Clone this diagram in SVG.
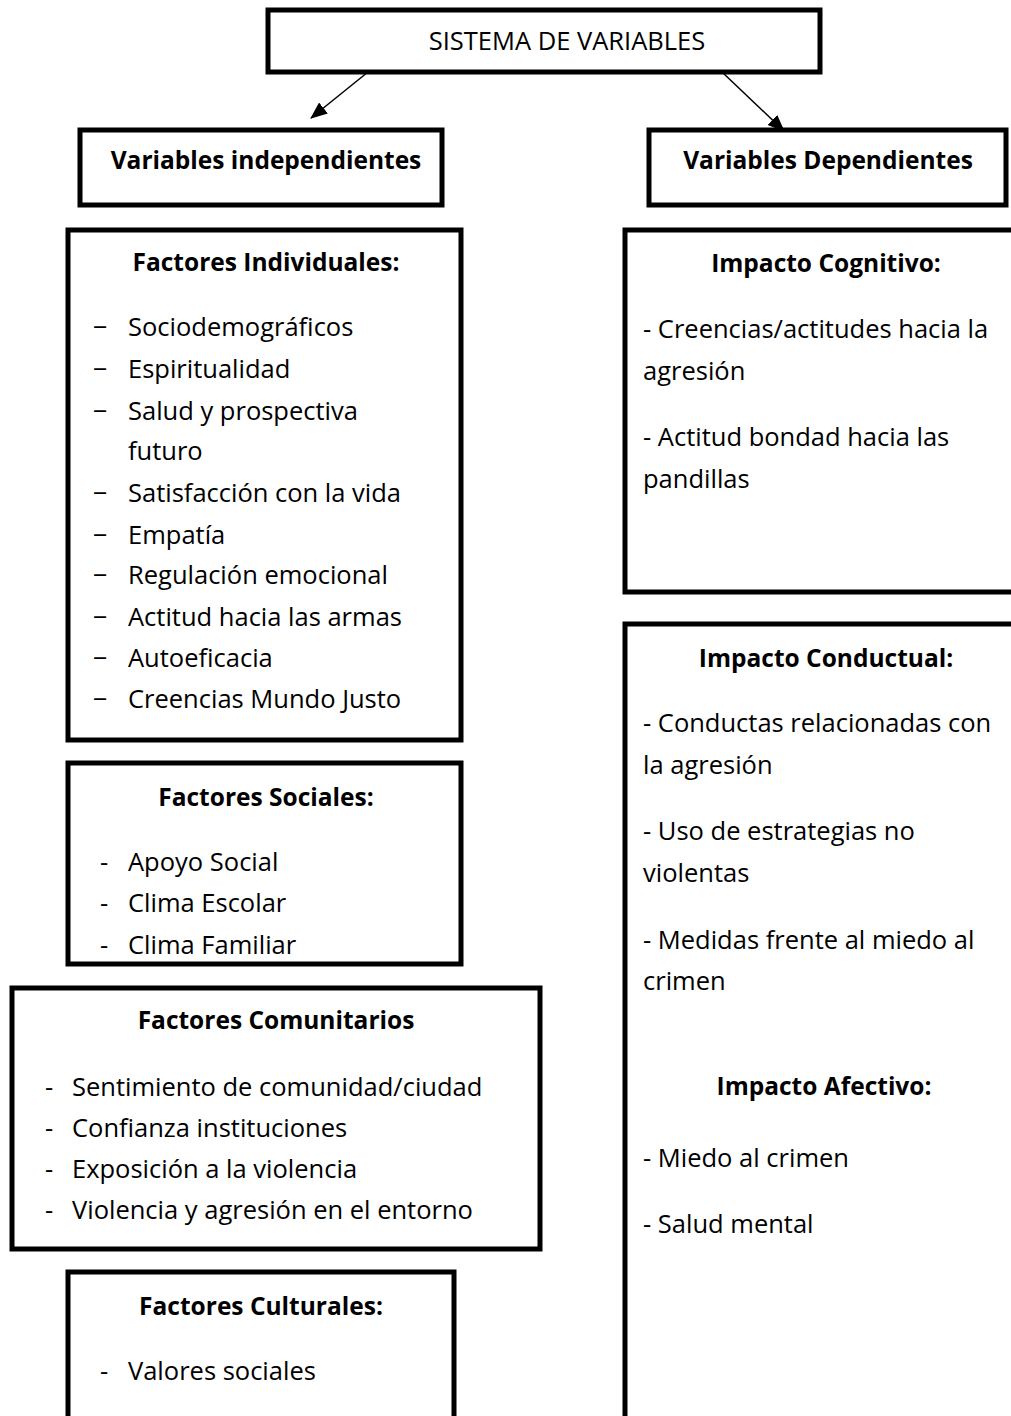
<svg xmlns="http://www.w3.org/2000/svg" width="1011" height="1416" viewBox="0 0 1011 1416">
<style>
.box{fill:#fff;stroke:#000;stroke-width:5}
.t{font-family:"Open Sans","Liberation Sans",sans-serif;font-size:25.5px;fill:#000}
.b{font-family:"Open Sans","Liberation Sans",sans-serif;font-size:24.5px;font-weight:bold;fill:#000;text-anchor:middle}
.c{text-anchor:middle}
.conn{stroke:#000;stroke-width:1.5;fill:none;marker-end:url(#ah)}
</style>
<defs>
<marker id="ah" markerWidth="18" markerHeight="16" refX="16" refY="7" orient="auto" markerUnits="userSpaceOnUse">
<path d="M0,0 L17,7 L0,14 Z" fill="#000"/>
</marker>
<clipPath id="clipSoc"><rect x="68" y="763" width="393" height="191"/></clipPath>
</defs>
<rect width="1011" height="1416" fill="#fff"/>
<g id="sistema">
<rect class="box" x="268" y="10" width="552" height="62"/>
<text class="t c" x="567" y="50">SISTEMA DE VARIABLES</text>
</g>
<g id="connectors">
<line class="conn" x1="368" y1="72" x2="311" y2="118"/>
<line class="conn" x1="722" y1="72" x2="784" y2="131"/>
</g>
<g id="var-indep">
<rect class="box" x="80" y="130" width="362" height="75"/>
<text class="b" x="266" y="169">Variables independientes</text>
</g>
<g id="var-dep">
<rect class="box" x="649" y="130" width="357" height="75"/>
<text class="b" x="828" y="169">Variables Dependientes</text>
</g>
<g id="f-individuales">
<rect class="box" x="68" y="230" width="393" height="510"/>
<text class="b" x="266" y="271">Factores Individuales:</text>
<g class="t">
<text x="93" y="336">−</text><text x="128" y="336">Sociodemográficos</text>
<text x="93" y="378">−</text><text x="128" y="378">Espiritualidad</text>
<text x="93" y="420">−</text><text x="128" y="420">Salud y prospectiva</text>
<text x="128" y="460">futuro</text>
<text x="93" y="502">−</text><text x="128" y="502">Satisfacción con la vida</text>
<text x="93" y="544">−</text><text x="128" y="544">Empatía</text>
<text x="93" y="584">−</text><text x="128" y="584">Regulación emocional</text>
<text x="93" y="626">−</text><text x="128" y="626">Actitud hacia las armas</text>
<text x="93" y="667">−</text><text x="128" y="667">Autoeficacia</text>
<text x="93" y="708">−</text><text x="128" y="708">Creencias Mundo Justo</text>
</g>
</g>
<g id="f-sociales">
<rect class="box" x="68" y="763" width="393" height="201"/>
<text class="b" x="266" y="806">Factores Sociales:</text>
<g class="t" clip-path="url(#clipSoc)">
<text x="100" y="871">-</text><text x="128" y="871">Apoyo Social</text>
<text x="100" y="912">-</text><text x="128" y="912">Clima Escolar</text>
<text x="100" y="954">-</text><text x="128" y="954">Clima Familiar</text>
</g>
</g>
<g id="f-comunitarios">
<rect class="box" x="12" y="988" width="528" height="261"/>
<text class="b" x="276" y="1029">Factores Comunitarios</text>
<g class="t">
<text x="45" y="1096">-</text><text x="72" y="1096">Sentimiento de comunidad/ciudad</text>
<text x="45" y="1137">-</text><text x="72" y="1137">Confianza instituciones</text>
<text x="45" y="1178">-</text><text x="72" y="1178">Exposición a la violencia</text>
<text x="45" y="1219">-</text><text x="72" y="1219">Violencia y agresión en el entorno</text>
</g>
</g>
<g id="f-culturales">
<rect class="box" x="68" y="1272" width="386" height="200"/>
<text class="b" x="261" y="1315">Factores Culturales:</text>
<g class="t">
<text x="100" y="1380">-</text><text x="128" y="1380">Valores sociales</text>
</g>
</g>
<g id="i-cognitivo">
<rect class="box" x="625" y="230" width="400" height="362"/>
<text class="b" x="826" y="272">Impacto Cognitivo:</text>
<g class="t">
<text x="643" y="338">- Creencias/actitudes hacia la</text>
<text x="643" y="380">agresión</text>
<text x="643" y="446">- Actitud bondad hacia las</text>
<text x="643" y="488">pandillas</text>
</g>
</g>
<g id="i-conductual">
<rect class="box" x="625" y="624" width="400" height="820"/>
<text class="b" x="826" y="667">Impacto Conductual:</text>
<g class="t">
<text x="643" y="732">- Conductas relacionadas con</text>
<text x="643" y="774">la agresión</text>
<text x="643" y="840">- Uso de estrategias no</text>
<text x="643" y="882">violentas</text>
<text x="643" y="949">- Medidas frente al miedo al</text>
<text x="643" y="990">crimen</text>
</g>
<text class="b" x="824" y="1095">Impacto Afectivo:</text>
<g class="t">
<text x="643" y="1167">- Miedo al crimen</text>
<text x="643" y="1233">- Salud mental</text>
</g>
</g>
</svg>
